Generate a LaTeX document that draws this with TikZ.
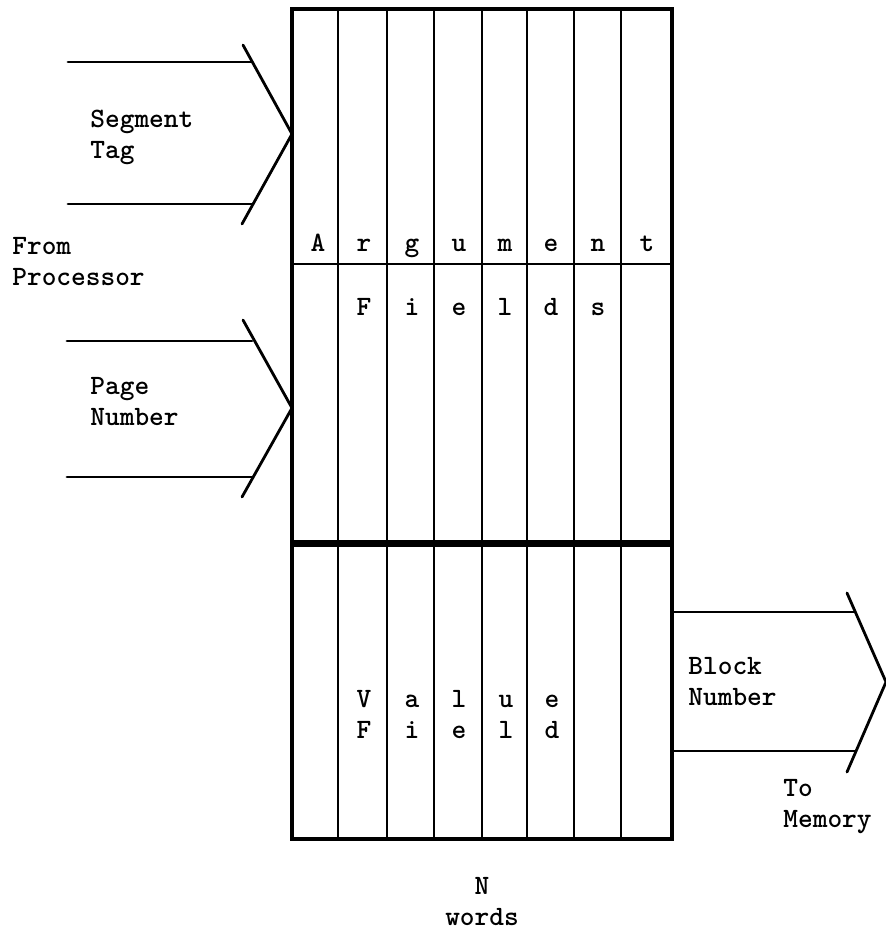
\documentclass[tikz,border=0pt]{standalone}
\usetikzlibrary{positioning}

\begin{document}
\begin{tikzpicture}[
    x=0.5pt, y=-0.5pt,
    lbl/.style={font=\ttfamily\bfseries\fontsize{14}{15.5}\selectfont, inner sep=0pt, align=left},
    cell/.style={font=\ttfamily\bfseries\fontsize{14}{15}\selectfont, inner sep=0pt, anchor=base},
    col/.style={line width=1.4pt},
    bus/.style={line width=1.4pt, line cap=round},
]
\useasboundingbox (0,0) rectangle (885,933);

% the memory array
\node[draw, line width=2.2pt, inner sep=0pt, minimum width=190pt, minimum height=415pt] (cam) at (482,424) {};
\draw[col] (338,9) -- (338,839);
\draw[col] (387,9) -- (387,839);
\draw[col] (434,9) -- (434,839);
\draw[col] (482,9) -- (482,839);
\draw[col] (527,9) -- (527,839);
\draw[col] (574,9) -- (574,839);
\draw[col] (621,9) -- (621,839);
\draw[line width=1.2pt] (292,264) -- (672,264);
\draw[line width=3.5pt] (292,543) -- (672,543);

% argument fields
\node[cell] (a1) at (318,251) {A};
\node[cell] (a2) at (364,251) {r};
\node[cell] (a3) at (412,251) {g};
\node[cell] (a4) at (459,251) {u};
\node[cell] (a5) at (505,251) {m};
\node[cell] (a6) at (551,251) {e};
\node[cell] (a7) at (598,251) {n};
\node[cell] (a8) at (647,251) {t};
\node[cell] (f1) at (364,315) {F};
\node[cell] (f2) at (412,315) {i};
\node[cell] (f3) at (459,315) {e};
\node[cell] (f4) at (505,315) {l};
\node[cell] (f5) at (551,315) {d};
\node[cell] (f6) at (598,315) {s};

% value field
\node[cell] (v1) at (364,707) {V};
\node[cell] (v2) at (412,707) {a};
\node[cell] (v3) at (459,707) {l};
\node[cell] (v4) at (506,707) {u};
\node[cell] (v5) at (552,707) {e};
\node[cell] (w1) at (364,738) {F};
\node[cell] (w2) at (412,738) {i};
\node[cell] (w3) at (459,738) {e};
\node[cell] (w4) at (506,738) {l};
\node[cell] (w5) at (552,738) {d};

% inputs from processor
\coordinate (segtip) at (292,134);
\coordinate (segtop) at (68,62);
\coordinate (segbot) at (68,204);
\draw[bus] (segtop) -- ++(184,0);
\draw[bus] (segbot) -- ++(185,0);
\draw[bus] (243,45) -- (segtip) -- (242,224);
\node[lbl, anchor=west] (seg) at (90,137) {Segment\\Tag};

\node[lbl, anchor=west] (proc) at (12,262) {From\\Processor};

\coordinate (pagetip) at (292,408);
\coordinate (pagetop) at (67,341);
\coordinate (pagebot) at (67,477);
\draw[bus] (pagetop) -- ++(185,0);
\draw[bus] (pagebot) -- ++(186,0);
\draw[bus] (243,320) -- (pagetip) -- (242,497);
\node[lbl, anchor=west] (page) at (90,402) {Page\\Number};

% output to memory
\coordinate (blktip) at (886,682);
\coordinate (blktop) at (672,612);
\coordinate (blkbot) at (672,751);
\draw[bus] (blktop) -- ++(183,0);
\draw[bus] (blkbot) -- ++(183,0);
\draw[bus] (847,593) -- (blktip) -- (847,772);
\node[lbl, anchor=west] (blk) at (688,682) {Block\\Number};
\node[lbl, anchor=west] (mem) at (783,807) {To\\Memory};

\node[lbl, align=center, below=18pt of cam] (nwords) {N\\words};
\end{tikzpicture}
\end{document}
